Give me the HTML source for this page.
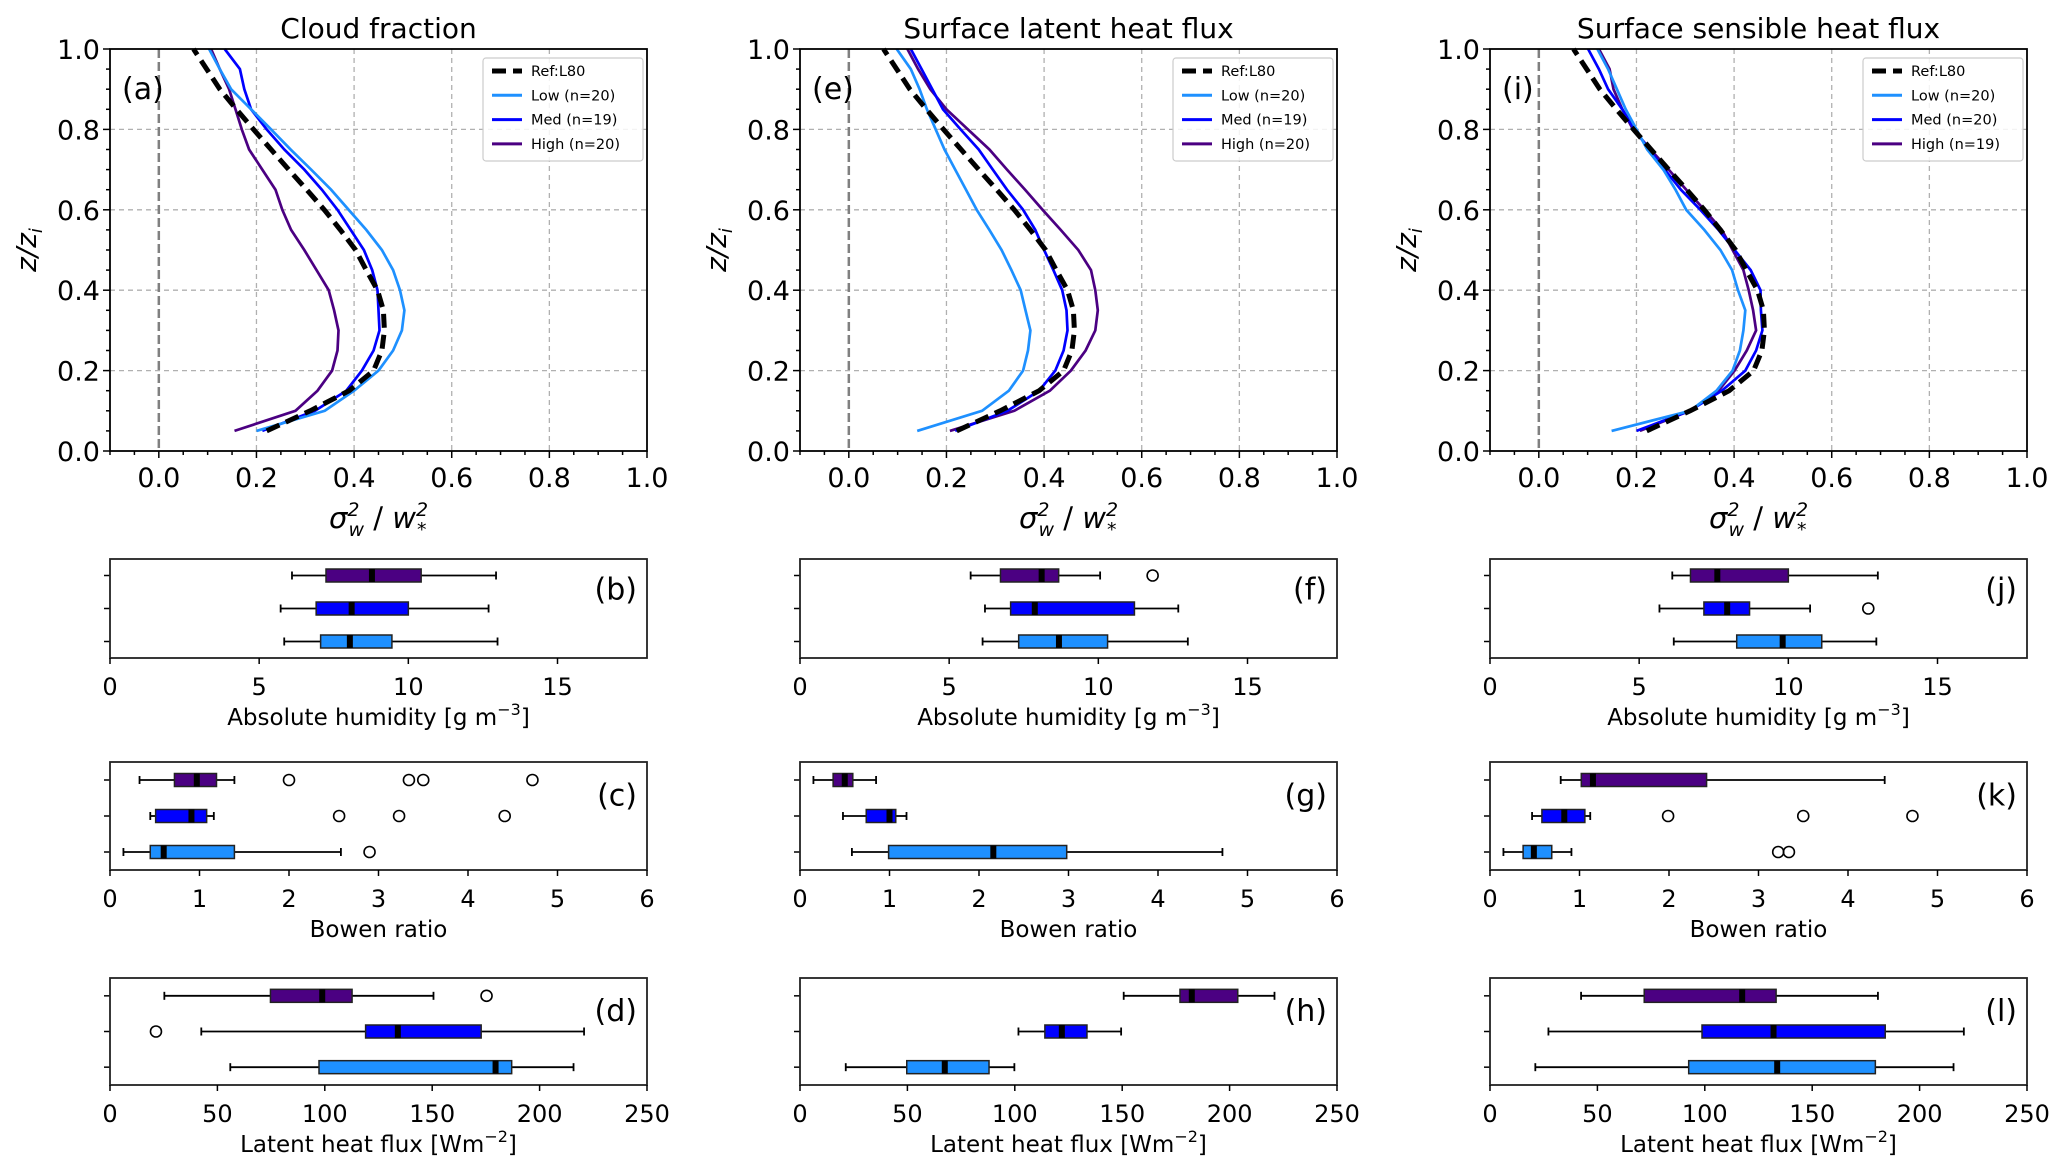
<!DOCTYPE html>
<html><head><meta charset="utf-8"><style>
html,body{margin:0;padding:0;background:#fff;}
svg{display:block;font-family:"DejaVu Sans","Liberation Sans",sans-serif;}
</style></head><body>
<svg id="fig" width="2067" height="1160" viewBox="0 0 2067 1160" xmlns="http://www.w3.org/2000/svg"></svg>
<script>
// ---------- data ----------
const zLevels = [0.05,0.1,0.15,0.2,0.25,0.3,0.35,0.4,0.45,0.5,0.55,0.6,0.65,0.7,0.75,0.8,0.85,0.9,0.95,1.0];
const refL80 = [0.221,0.31,0.39,0.44,0.457,0.462,0.46,0.448,0.425,0.403,0.372,0.339,0.303,0.266,0.23,0.194,0.159,0.125,0.098,0.071];
const cloudLow = [0.2,0.34,0.40,0.45,0.48,0.498,0.503,0.494,0.48,0.457,0.425,0.389,0.353,0.312,0.27,0.23,0.189,0.148,0.125,0.103];
const cloudMed = [0.212,0.32,0.384,0.416,0.44,0.452,0.45,0.448,0.437,0.42,0.393,0.366,0.334,0.298,0.257,0.221,0.189,0.175,0.166,0.135];
const cloudHigh = [0.155,0.28,0.325,0.355,0.366,0.368,0.359,0.348,0.323,0.298,0.271,0.253,0.239,0.212,0.185,0.17,0.157,0.144,0.125,0.107];
const lhfLow = [0.14,0.273,0.328,0.357,0.367,0.372,0.362,0.352,0.333,0.313,0.288,0.262,0.24,0.218,0.196,0.178,0.16,0.145,0.127,0.098];
const lhfMed = [0.218,0.325,0.39,0.423,0.44,0.448,0.446,0.437,0.419,0.40,0.382,0.357,0.324,0.295,0.266,0.229,0.193,0.171,0.149,0.127];
const lhfHigh = [0.207,0.339,0.412,0.455,0.485,0.505,0.51,0.505,0.496,0.47,0.434,0.397,0.361,0.324,0.288,0.244,0.2,0.167,0.142,0.12];
const shfLow = [0.149,0.31,0.364,0.397,0.412,0.419,0.423,0.408,0.396,0.372,0.339,0.302,0.28,0.255,0.222,0.2,0.178,0.16,0.142,0.12];
const shfMed = [0.2,0.309,0.375,0.423,0.445,0.458,0.455,0.454,0.434,0.401,0.368,0.331,0.291,0.258,0.226,0.196,0.171,0.142,0.123,0.101];
const shfHigh = [0.207,0.309,0.368,0.401,0.426,0.445,0.439,0.43,0.419,0.397,0.375,0.339,0.302,0.266,0.229,0.193,0.171,0.153,0.145,0.123];
const profileTitles = ["Cloud fraction","Surface latent heat flux","Surface sensible heat flux"];
const profileLetters = ["(a)","(e)","(i)"];
const legendLabels = [["Ref:L80","Low (n=20)","Med (n=19)","High (n=20)"],["Ref:L80","Low (n=20)","Med (n=19)","High (n=20)"],["Ref:L80","Low (n=20)","Med (n=20)","High (n=19)"]];
const profileXTicks = [0.0,0.2,0.4,0.6,0.8,1.0];
const profileYTicks = [0.0,0.2,0.4,0.6,0.8,1.0];

// box stats: [whiskerLow, q1, median, q3, whiskerHigh]; rows Low, Med, High
const humA = [[5.84,7.06,8.04,9.45,12.99],[5.72,6.91,8.1,10.0,12.69],[6.1,7.24,8.78,10.43,12.94]];
const humAFliers = [[],[],[]];
const bowA = [[0.15,0.45,0.6,1.39,2.58],[0.45,0.51,0.91,1.08,1.16],[0.33,0.72,0.97,1.19,1.39]];
const bowAFliers = [[2.9],[2.56,3.23,4.41],[2.0,3.34,3.5,4.72]];
const lhA = [[56,97.3,179.5,187,215.8],[42.5,119,134,172.8,220.7],[25.3,74.7,98.8,112.7,150.6]];
const lhAFliers = [[],[21.4],[175.3]];
const humE = [[6.12,7.33,8.68,10.31,13.0],[6.2,7.06,7.87,11.21,12.68],[5.72,6.72,8.1,8.67,10.06]];
const humEFliers = [[],[],[11.82]];
const bowE = [[0.58,0.99,2.16,2.98,4.72],[0.48,0.74,1.0,1.07,1.19],[0.15,0.37,0.5,0.59,0.85]];
const bowEFliers = [[],[],[]];
const lhE = [[21.3,49.7,67.4,88,99.8],[101.7,114,121.9,133.6,149.5],[150.7,176.9,182.4,203.8,220.9]];
const lhEFliers = [[],[],[]];
const humI = [[6.16,8.27,9.81,11.12,12.95],[5.68,7.17,7.95,8.7,10.73],[6.11,6.72,7.62,10.0,13.0]];
const humIFliers = [[],[12.68],[]];
const bowI = [[0.15,0.37,0.49,0.69,0.91],[0.47,0.58,0.83,1.06,1.12],[0.79,1.02,1.15,2.42,4.41]];
const bowIFliers = [[3.22,3.34],[1.99,3.5,4.72],[]];
const lhI = [[21.1,92.5,133.7,179.4,215.8],[27.2,98.7,132,184,220.6],[42.4,71.8,117.4,133.2,180.6]];
const lhIFliers = [[],[],[]];
const humTicks = [0,5,10,15];
const bowTicks = [0,1,2,3,4,5,6];
const lhTicks = [0,50,100,150,200,250];
const boxLetters = [["(b)","(c)","(d)"],["(f)","(g)","(h)"],["(j)","(k)","(l)"]];

const colors = ["#1E90FF","#0000FF","#4B0082"];
const NS="http://www.w3.org/2000/svg";
const svg=document.getElementById('fig');
function mk(tag, attrs, parent){const e=document.createElementNS(NS,tag);for(const k in attrs)e.setAttribute(k,attrs[k]);(parent||svg).appendChild(e);return e;}
function txt(s, attrs, parent){const e=mk('text',attrs,parent);e.textContent=s;return e;}

const colLeft=[110,800,1490], W=537;
const profTop=49, profBot=451;
const profiles=[[refL80,cloudLow,cloudMed,cloudHigh],[refL80,lhfLow,lhfMed,lhfHigh],[refL80,shfLow,shfMed,shfHigh]];

for(let c=0;c<3;c++){
  const L=colLeft[c];
  const sx=v=>L+(v+0.1)/1.1*W;
  const sy=z=>profBot-z*(profBot-profTop);
  const g=mk('g',{});
  
  
  const t=txt(profileTitles[c],{x:L+W/2,y:38,'font-size':28,'text-anchor':'middle'},g);
   
  for(const v of [0.2,0.4,0.6,0.8]){
    const gl=mk('line',{x1:sx(v),x2:sx(v),y1:profTop,y2:profBot,stroke:'#b0b0b0','stroke-width':1.3,'stroke-dasharray':'5,4'},g);
     
  }
  for(const v of [0.2,0.4,0.6,0.8]){
    const gl=mk('line',{x1:L,x2:L+W,y1:sy(v),y2:sy(v),stroke:'#b0b0b0','stroke-width':1.3,'stroke-dasharray':'5,4'},g);
     
  }
  const zl=mk('line',{x1:sx(0),x2:sx(0),y1:profTop,y2:profBot,stroke:'#808080','stroke-width':2.5,'stroke-dasharray':'9,4'},g);
   
  const prof=profiles[c];
  for(let s=3;s>=0;s--){
    const pts=prof[s].map((v,i)=>sx(v).toFixed(1)+','+sy(zLevels[i]).toFixed(1)).join(' ');
    const attrs = s===0 ? {points:pts,fill:'none',stroke:'#000','stroke-width':5,'stroke-dasharray':'14,7'} : {points:pts,fill:'none',stroke:colors[s-1],'stroke-width':2.7};
    const pl=mk('polyline',attrs,g);
    
    
  }
  const fr=mk('rect',{x:L,y:profTop,width:W,height:profBot-profTop,fill:'none',stroke:'#000','stroke-width':1.8},g);
   
  for(let k=-2;k<=20;k++){const v=k*0.05; const major=k%4===0; if(v>1.0001)continue;
    mk('line',{x1:sx(v),x2:sx(v),y1:profBot,y2:profBot+(major?7:4),stroke:'#000','stroke-width':1.5},g);}
  for(let k=0;k<=20;k++){const v=k*0.05; const major=k%4===0;
    mk('line',{x1:L,x2:L-(major?7:4),y1:sy(v),y2:sy(v),stroke:'#000','stroke-width':1.5},g);}
  for(const v of profileXTicks){const tl=txt(v.toFixed(1),{x:sx(v),y:487,'font-size':27,'text-anchor':'middle'},g);
     }
  for(const v of profileYTicks){const tl=txt(v.toFixed(1),{x:L-10,y:sy(v)+10,'font-size':27,'text-anchor':'end'},g);
     }
  const xl=mk('text',{x:L+W/2,y:528,'font-size':29,'text-anchor':'middle','font-style':'italic'},g);
  xl.innerHTML='σ<tspan font-size="19" dy="-12">2</tspan><tspan font-size="19" dx="-11" dy="20">w</tspan><tspan dy="-8" font-style="normal"> / </tspan>w<tspan font-size="19" dy="-12">2</tspan><tspan font-size="19" dx="-11" dy="20">*</tspan>';
   
  const yl=mk('text',{x:0,y:0,'font-size':28,'text-anchor':'middle','font-style':'italic',transform:`translate(${L-74},250) rotate(-90)`},g);
  yl.innerHTML='z/z<tspan font-size="18" dy="6">i</tspan>';
   
  const pl=txt(profileLetters[c],{x:L+12,y:sy(0.9)+10,'font-size':30},g);
   
  const lg=mk('g',{},g);
   
  mk('rect',{x:L+373,y:58,width:160,height:103,rx:3,fill:'#fff','fill-opacity':0.85,stroke:'#ccc','stroke-width':1.2},lg);
  for(let s=0;s<4;s++){
    const yy=71+s*24.3;
    const ln = s===0 ? mk('line',{x1:L+382,x2:L+412,y1:yy,y2:yy,stroke:'#000','stroke-width':5,'stroke-dasharray':'14,7'},lg)
                     : mk('line',{x1:L+382,x2:L+412,y1:yy,y2:yy,stroke:colors[s-1],'stroke-width':3},lg);
     
    const lt=txt(legendLabels[c][s],{x:L+421,y:yy+5,'font-size':14.5},lg);
     
  }
}

// ---------- box plots ----------
const boxRows=[[559,658],[762,870],[978,1085]];
const boxData=[[humA,bowA,lhA],[humE,bowE,lhE],[humI,bowI,lhI]];
const boxFliers=[[humAFliers,bowAFliers,lhAFliers],[humEFliers,bowEFliers,lhEFliers],[humIFliers,bowIFliers,lhIFliers]];
const boxMax=[18,6,250];
const boxTicks=[humTicks,bowTicks,lhTicks];
for(let c=0;c<3;c++){
  const L=colLeft[c];
  for(let r=0;r<3;r++){
    const [T,B]=boxRows[r];
    const sx=v=>L+v/boxMax[r]*W;
    const g=mk('g',{});
    
    
    const H=B-T;
    const rowY=[T+H*5/6,T+H/2,T+H/6];
    for(let k=0;k<3;k++){
      const d=boxData[c][r][k], y=rowY[k], hh=6.5;
      mk('line',{x1:sx(d[0]),x2:sx(d[1]),y1:y,y2:y,stroke:'#000','stroke-width':1.8},g);
      mk('line',{x1:sx(d[3]),x2:sx(d[4]),y1:y,y2:y,stroke:'#000','stroke-width':1.8},g);
      mk('line',{x1:sx(d[0]),x2:sx(d[0]),y1:y-4,y2:y+4,stroke:'#000','stroke-width':1.8},g);
      mk('line',{x1:sx(d[4]),x2:sx(d[4]),y1:y-4,y2:y+4,stroke:'#000','stroke-width':1.8},g);
      const bx=mk('rect',{x:sx(d[1]),y:y-hh,width:sx(d[3])-sx(d[1]),height:2*hh,fill:colors[k],stroke:'#222','stroke-width':1.5},g);
       
      mk('line',{x1:sx(d[2]),x2:sx(d[2]),y1:y-hh,y2:y+hh,stroke:'#000','stroke-width':6},g);
      for(const f of boxFliers[c][r][k]){
        const fl=mk('circle',{cx:sx(f),cy:y,r:5.5,fill:'none',stroke:'#000','stroke-width':1.6},g);
         
      }
      mk('line',{x1:L,x2:L-6,y1:y,y2:y,stroke:'#000','stroke-width':1.5},g);
    }
    const fr=mk('rect',{x:L,y:T,width:W,height:H,fill:'none',stroke:'#222','stroke-width':1.8},g);
     
    for(const v of boxTicks[r]){
      mk('line',{x1:sx(v),x2:sx(v),y1:B,y2:B+6,stroke:'#000','stroke-width':1.5},g);
      const tl=txt(String(v),{x:sx(v),y:B+37,'font-size':24,'text-anchor':'middle'},g);
       
    }
    const xl=mk('text',{x:L+W/2,y:B+67,'font-size':23,'text-anchor':'middle'},g);
    if(r===0) xl.innerHTML='Absolute humidity [g  m<tspan font-size="16" dy="-10">−3</tspan><tspan dy="10">]</tspan>';
    else if(r===1) xl.textContent='Bowen ratio';
    else xl.innerHTML='Latent heat flux [Wm<tspan font-size="16" dy="-10">−2</tspan><tspan dy="10">]</tspan>';
     
    const lt=txt(boxLetters[c][r],{x:L+W-10,y:T+H*0.3+11,'font-size':30,'text-anchor':'end'},g);
     
  }
}
</script>
</body></html>
